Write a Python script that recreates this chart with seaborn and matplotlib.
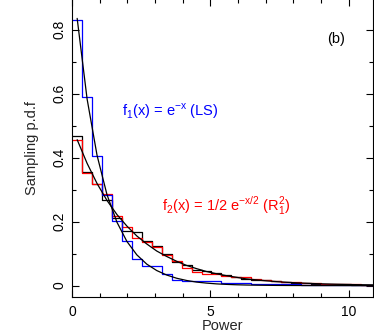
import numpy as np
import pandas as pd
import seaborn as sns
import matplotlib
matplotlib.use("Agg")
import matplotlib.pyplot as plt
from matplotlib.ticker import MultipleLocator

# bins (width)
bin_width = 0.36
n_bins = 31
edges = [i * bin_width for i in range(n_bins + 1)]
centers = [e + bin_width / 2 for e in edges[:-1]]

# sampling p.d.f.
ls_hist = [0.83, 0.59, 0.404, 0.284, 0.202, 0.138, 0.082, 0.062, 0.062, 0.036,
           0.019, 0.015, 0.014, 0.014, 0.013, 0.008, 0.008, 0.007, 0.006, 0.005,
           0.004, 0.004, 0.004, 0.003, 0.003, 0.003, 0.003, 0.002, 0.002, 0.002, 0.002]
r2_hist = [0.456, 0.352, 0.318, 0.286, 0.219, 0.182, 0.150, 0.137, 0.122, 0.096,
           0.078, 0.056, 0.044, 0.036, 0.036, 0.029, 0.028, 0.027, 0.022, 0.018,
           0.014, 0.012, 0.010, 0.008, 0.008, 0.006, 0.005, 0.004, 0.004, 0.003, 0.003]
r2b_hist = [0.467, 0.355, 0.318, 0.268, 0.211, 0.171, 0.167, 0.138, 0.125, 0.100,
            0.075, 0.063, 0.050, 0.045, 0.038, 0.032, 0.027, 0.020, 0.019, 0.016,
            0.014, 0.011, 0.009, 0.008, 0.006, 0.005, 0.005, 0.004, 0.003, 0.003, 0.003]

# model curves at the bin centres
f1_curve = [0.835, 0.583, 0.407, 0.284, 0.198, 0.138, 0.096, 0.067, 0.047, 0.033,
            0.023, 0.016, 0.011, 0.0078, 0.0054, 0.0038, 0.0026, 0.0018, 0.0013, 0.0009,
            0.0006, 0.0004, 0.0003, 0.0002, 0.0001, 0.0001, 0.0001, 0.0, 0.0, 0.0, 0.0]
f2_curve = [0.456, 0.382, 0.319, 0.266, 0.222, 0.186, 0.155, 0.130, 0.108, 0.091,
            0.076, 0.063, 0.053, 0.044, 0.037, 0.031, 0.026, 0.021, 0.018, 0.015,
            0.0125, 0.0104, 0.0087, 0.0073, 0.0061, 0.0051, 0.0042, 0.0035, 0.0030, 0.0025, 0.0021]

sns.set_theme(style="ticks")
plt.rcParams['font.family'] = ['Liberation Sans', 'DejaVu Sans']
plt.rcParams['axes.linewidth'] = 0.8

fig = plt.figure(figsize=(3.74, 3.34), dpi=100)
ax = fig.add_axes([0.193, 0.111, 0.804, 0.892])

for vals, col in [(r2b_hist, "black"), (r2_hist, "red"), (ls_hist, "blue")]:
    hdf = pd.DataFrame({"x": centers, "w": vals})
    sns.histplot(data=hdf, x="x", weights="w", bins=edges, element="step", fill=False,
                 color=col, linewidth=0.9, ax=ax)

curves = pd.DataFrame({"x": centers + centers,
                       "y": f1_curve + f2_curve,
                       "model": ["f1"] * n_bins + ["f2"] * n_bins})
sns.lineplot(data=curves, x="x", y="y", units="model", estimator=None,
             color="black", linewidth=0.9, ax=ax)

ax.set_xlim(0, 10.88)
ax.set_ylim(-0.0354, 0.8956)

ax.xaxis.set_major_locator(MultipleLocator(5))
ax.xaxis.set_minor_locator(MultipleLocator(1))
ax.yaxis.set_minor_locator(MultipleLocator(0.1))
ax.set_yticks([0, 0.2, 0.4, 0.6, 0.8])
ax.set_yticklabels(["0", "0.2", "0.4", "0.6", "0.8"], rotation=90, va="center")
ax.tick_params(which="both", direction="in", top=True, right=True,
               labelsize=10, color="black", labelcolor="black", width=0.8)
ax.tick_params(which="major", length=5)
ax.tick_params(which="minor", length=2.8)
ax.tick_params(axis="x", which="major", pad=6)
ax.tick_params(axis="y", which="major", pad=4)
for s in ax.spines.values():
    s.set_visible(True)
    s.set_color("black")

ax.set_xlabel("Power", fontsize=10.5, labelpad=0)
ax.set_ylabel("Sampling p.d.f", fontsize=10.5, labelpad=10)

ax.text(1.79, 0.545, r"f$_\mathregular{1}$(x) = e$^\mathregular{-x}$ (LS)",
        color="blue", fontsize=10.5, va="center", ha="left")
ax.text(3.24, 0.247, r"f$_\mathregular{2}$(x) = 1/2 e$^\mathregular{-x/2}$ (R$^\mathregular{2}_\mathregular{1}$)",
        color="red", fontsize=10.5, va="center", ha="left")
ax.text(9.55, 0.77, "(b)", color="black", fontsize=10.5, va="center", ha="center")

fig.savefig("out.png", dpi=100)
